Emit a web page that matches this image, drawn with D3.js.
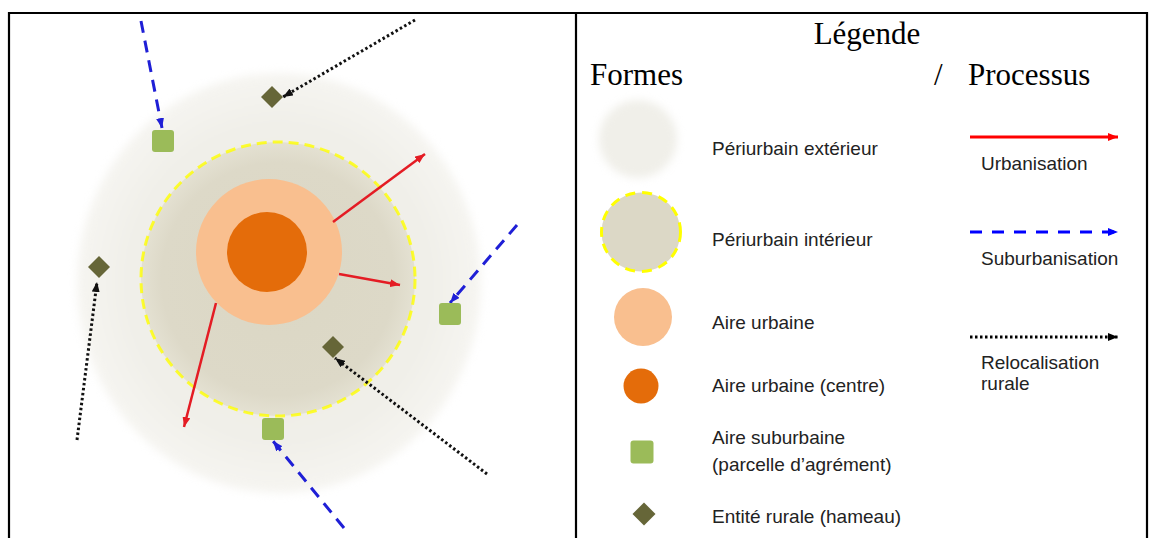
<!DOCTYPE html>
<html>
<head>
<meta charset="utf-8">
<script src="https://cdn.jsdelivr.net/npm/d3@7"></script>
<style>
  body { margin: 0; background: #fff; }
  svg { display: block; }
</style>
</head>
<body>
<div id="chart"></div>
<script>
// ---------------------------- DATA ----------------------------- //
// map units: city centre at (0,0)
const zones = [
  { key: 'ext', cx: 0.5, cy: 7.5, rx: 101, ry: 105 },
  { key: 'int', cx: 0, cy: 5.5, rx: 68.5, ry: 68.5 },
  { key: 'urb', cx: -4.5, cy: -8, rx: 36.5, ry: 36.5 },
  { key: 'ctr', cx: -5.5, cy: -8, rx: 20, ry: 20 }
];

const suburbs = [[-57.5, -63.5], [86, 23], [-2.5, 80.5]];
const hamlets = [[-3, -85.5], [-89.5, -0.5], [27.5, 39.5]];

const urbanisation = [
  [[27.5, -23], [73.5, -57]],
  [[30.5, 3], [61, 8.5]],
  [[-31, 17.5], [-47, 79.5]]
];
const suburbanisation = [
  [[-68.5, -123.5], [-58, -70]],
  [[119.5, -21.5], [86, 17.5]],
  [[33, 130], [-2.5, 86.5]]
];
const relocalisation = [
  [[68.5, -124], [2.5, -85.5]],
  [[-100.5, 86], [-90.5, 7]],
  [[104.5, 103], [28.5, 45]]
];

const legendTitle = 'Légende';
const formsTitle = 'Formes';
const processTitle = 'Processus';
const formLabels = [
  ['Périurbain extérieur'],
  ['Périurbain intérieur'],
  ['Aire urbaine'],
  ['Aire urbaine (centre)'],
  ['Aire suburbaine', '(parcelle d’agrément)'],
  ['Entité rurale (hameau)']
];
const processLabels = [
  ['Urbanisation'],
  ['Suburbanisation'],
  ['Relocalisation', 'rurale']
];

// --------------------------- LAYOUT ---------------------------- //
const width = 1150;
const height = 538;
const formRowY = [139, 232, 317, 386, 452, 514];
const formLabelY = [155, 246, 329, 392, 444, 523];
const procRowY = [137, 232, 337];
const procLabelY = [170, 265, 369];

const colors = {
  ext: '#f0efe9', int: '#dcd8c6', urb: '#f9bf8f', ctr: '#e46c0a',
  suburb: '#9bbb59', hamlet: '#666638', yellow: '#ffff00'
};

const svg = d3.select('#chart').append('svg')
  .attr('width', width)
  .attr('height', height);

const defs = svg.append('defs');

defs.append('filter').attr('id', 'soft')
  .attr('x', '-20%').attr('y', '-20%').attr('width', '140%').attr('height', '140%')
  .attr('color-interpolation-filters', 'sRGB')
  .append('feGaussianBlur').attr('stdDeviation', 4);

const g1 = defs.append('radialGradient').attr('id', 'gExt');
g1.append('stop').attr('offset', '0%').attr('stop-color', '#eeece4');
g1.append('stop').attr('offset', '75%').attr('stop-color', '#f0efe9');
g1.append('stop').attr('offset', '100%').attr('stop-color', '#f6f5f1');

const g2 = defs.append('radialGradient').attr('id', 'gInt');
g2.append('stop').attr('offset', '0%').attr('stop-color', '#dbd7c4');
g2.append('stop').attr('offset', '85%').attr('stop-color', '#ddd9c8');
g2.append('stop').attr('offset', '100%').attr('stop-color', '#e4e1d2');

const arrowHead = (id, color) => {
  defs.append('marker')
    .attr('id', id)
    .attr('markerUnits', 'userSpaceOnUse')
    .attr('viewBox', '0 0 10 8')
    .attr('refX', 10).attr('refY', 4)
    .attr('markerWidth', 10).attr('markerHeight', 8)
    .attr('orient', 'auto')
    .append('path')
    .attr('d', 'M0,0L10,4L0,8Z')
    .attr('fill', color);
};
arrowHead('aRed', '#e41c24');
arrowHead('aBlue', '#1f1fd6');
arrowHead('aBlack', '#111');
arrowHead('lRed', '#ff0000');
arrowHead('lBlue', '#0000ff');
arrowHead('lBlack', '#000');

// ---------------------------- SCALES --------------------------- //
const x = d3.scaleLinear().domain([-100, 100]).range([78, 478]);
const y = d3.scaleLinear().domain([-100, 100]).range([68, 468]);
const k = (x(1) - x(0));

// ----------------------------- MAP ----------------------------- //
const map = svg.append('g');

map.append('ellipse')
  .attr('cx', x(zones[0].cx)).attr('cy', y(zones[0].cy))
  .attr('rx', zones[0].rx * k).attr('ry', zones[0].ry * k)
  .attr('fill', 'url(#gExt)')
  .attr('filter', 'url(#soft)');

map.append('ellipse')
  .attr('cx', x(zones[1].cx)).attr('cy', y(zones[1].cy))
  .attr('rx', zones[1].rx * k).attr('ry', zones[1].ry * k)
  .attr('fill', 'url(#gInt)')
  .attr('stroke', colors.yellow)
  .attr('stroke-opacity', 0.8)
  .attr('stroke-width', 3)
  .attr('stroke-dasharray', '10 6');

zones.slice(2).forEach(z => {
  map.append('ellipse')
    .attr('cx', x(z.cx)).attr('cy', y(z.cy))
    .attr('rx', z.rx * k).attr('ry', z.ry * k)
    .attr('fill', colors[z.key]);
});

const line = d3.line().x(d => x(d[0])).y(d => y(d[1]));

const drawArrows = (data, color, dash, marker, w) => {
  map.selectAll(null)
    .data(data)
    .enter()
    .append('path')
    .attr('d', d => line(d))
    .attr('fill', 'none')
    .attr('stroke', color)
    .attr('stroke-width', w)
    .attr('stroke-dasharray', dash)
    .attr('marker-end', `url(#${marker})`);
};

drawArrows(urbanisation, '#e41c24', null, 'aRed', 2.5);
drawArrows(suburbanisation, '#1f1fd6', '12 8', 'aBlue', 3);
drawArrows(relocalisation, '#111', '2.5 2.5', 'aBlack', 3);

map.selectAll('.suburb')
  .data(suburbs)
  .enter()
  .append('rect')
  .attr('class', 'suburb')
  .attr('x', d => x(d[0]) - 11)
  .attr('y', d => y(d[1]) - 11)
  .attr('width', 22).attr('height', 22)
  .attr('rx', 3)
  .attr('fill', colors.suburb);

map.selectAll('.hamlet')
  .data(hamlets)
  .enter()
  .append('path')
  .attr('class', 'hamlet')
  .attr('transform', d => `translate(${x(d[0])},${y(d[1])})`)
  .attr('d', 'M0,-11L11,0L0,11L-11,0Z')
  .attr('fill', colors.hamlet);

// ---------------------------- LEGEND --------------------------- //
const leg = svg.append('g');
const serif = '"Liberation Serif", "Times New Roman", serif';
const sans = '"Liberation Sans", Arial, sans-serif';

leg.append('text')
  .attr('x', 867).attr('y', 44)
  .attr('text-anchor', 'middle')
  .style('font-family', serif).style('font-size', '31px')
  .text(legendTitle);

leg.append('text')
  .attr('x', 590).attr('y', 85)
  .style('font-family', serif).style('font-size', '31px')
  .text(formsTitle);

leg.append('text')
  .attr('x', 934).attr('y', 85)
  .style('font-family', serif).style('font-size', '31px')
  .text('/');

leg.append('text')
  .attr('x', 968).attr('y', 85)
  .style('font-family', serif).style('font-size', '31px')
  .text(processTitle);

// symbols
leg.append('circle')
  .attr('cx', 638).attr('cy', formRowY[0]).attr('r', 39)
  .attr('fill', colors.ext).attr('filter', 'url(#soft)');
leg.append('circle')
  .attr('cx', 641).attr('cy', formRowY[1]).attr('r', 39.5)
  .attr('fill', colors.int)
  .attr('stroke', colors.yellow).attr('stroke-width', 3)
  .attr('stroke-dasharray', '10 7');
leg.append('circle')
  .attr('cx', 643).attr('cy', formRowY[2]).attr('r', 29)
  .attr('fill', colors.urb);
leg.append('circle')
  .attr('cx', 641).attr('cy', formRowY[3]).attr('r', 17.5)
  .attr('fill', colors.ctr);
leg.append('rect')
  .attr('x', 642 - 11.5).attr('y', formRowY[4] - 11.5)
  .attr('width', 23).attr('height', 23).attr('rx', 3)
  .attr('fill', colors.suburb);
leg.append('path')
  .attr('transform', `translate(644,${formRowY[5]})`)
  .attr('d', 'M0,-11.5L11.5,0L0,11.5L-11.5,0Z')
  .attr('fill', colors.hamlet);

const labelRows = (labels, xPos, ys, lh) => {
  labels.forEach((lines, i) => {
    const t = leg.append('text')
      .attr('x', xPos).attr('y', ys[i])
      .style('font-family', sans).style('font-size', '19px')
      .attr('fill', '#222');
    lines.forEach((s, j) => {
      t.append('tspan').attr('x', xPos).attr('dy', j ? lh : 0).text(s);
    });
  });
};
labelRows(formLabels, 712, formLabelY, 27);

// process lines
const procStyles = [
  { color: '#ff0000', dash: null, marker: 'lRed', w: 3 },
  { color: '#0000ff', dash: '12 10', marker: 'lBlue', w: 3 },
  { color: '#000', dash: '2.5 2.5', marker: 'lBlack', w: 3 }
];
procStyles.forEach((s, i) => {
  leg.append('line')
    .attr('x1', 970).attr('x2', 1118)
    .attr('y1', procRowY[i]).attr('y2', procRowY[i])
    .attr('stroke', s.color).attr('stroke-width', s.w)
    .attr('stroke-dasharray', s.dash)
    .attr('marker-end', `url(#${s.marker})`);
});
labelRows(processLabels, 981, procLabelY, 21);

// ---------------------------- FRAME ---------------------------- //
const frame = svg.append('g')
  .attr('stroke', '#000').attr('stroke-width', 2.2);
frame.append('line').attr('x1', 8).attr('x2', 1148).attr('y1', 13).attr('y2', 13);
[9, 576, 1147].forEach(v => {
  frame.append('line').attr('x1', v).attr('x2', v).attr('y1', 12).attr('y2', height);
});
</script>
</body>
</html>
